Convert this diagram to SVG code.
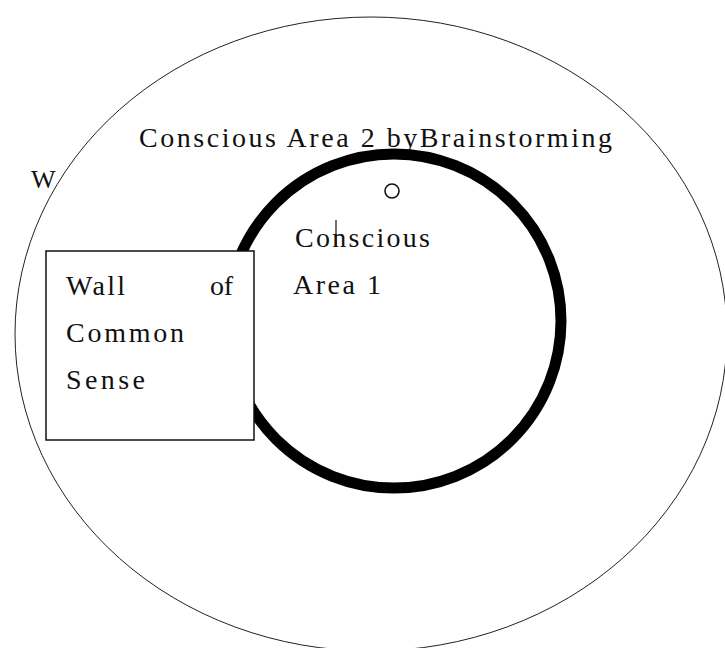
<svg xmlns="http://www.w3.org/2000/svg" width="725" height="648" viewBox="0 0 725 648">
<style>
text{font-family:"Liberation Serif","DejaVu Serif",serif;font-size:28px;fill:#111}
.thin{fill:none;stroke:#222;stroke-width:1}
</style>
<rect width="725" height="648" fill="#fff"/>
<g id="area2">
<ellipse class="thin" cx="371" cy="334" rx="356" ry="317"/>
<text x="139" y="147" textLength="473">Conscious Area 2 byBrainstorming</text>
</g>
<g id="area1">
<circle cx="394" cy="321" r="167" fill="none" stroke="#000" stroke-width="11"/>
<text x="295" y="247" textLength="135">Conscious</text>
<text x="293" y="294" textLength="88">Area 1</text>
</g>
<g id="wall">
<rect x="46" y="251" width="208" height="189" fill="#fff" stroke="#111" stroke-width="1.5"/>
<text x="66" y="295" textLength="59">Wall</text>
<text x="210" y="295" textLength="23">of</text>
<text x="66" y="342" textLength="118">Common</text>
<text x="66" y="389" textLength="79">Sense</text>
</g>
<g id="w-label">
<text x="31" y="188" style="font-size:26px">W</text>
</g>
<g id="connectors">
<circle cx="392" cy="191" r="7" fill="none" stroke="#111" stroke-width="1.6"/>
<line x1="336" y1="220" x2="336" y2="247" stroke="#111" stroke-width="1.2"/>
</g>
</svg>
